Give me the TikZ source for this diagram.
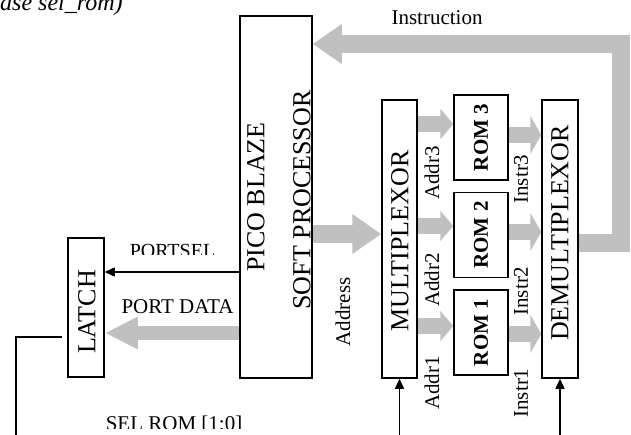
\documentclass[tikz,border=0pt]{standalone}
\usepackage{fontspec}
\setmainfont{Liberation Serif}
\usepackage{xcolor}
\usepackage{tikz}
\usetikzlibrary{positioning, arrows.meta, calc}

\definecolor{busgray}{RGB}{192,192,192}

\begin{document}
\begin{tikzpicture}[
      x=1pt, y=-1pt,
      node distance=11pt,
      box/.style={draw, line width=1.5pt, inner sep=0pt},
      romblk/.style={box, minimum width=54pt, minimum height=85pt},
      vtxt/.style={rotate=90, inner sep=0pt, font=\fontsize{26}{28}\selectfont},
      romtxt/.style={rotate=90, inner sep=0pt, font=\bfseries\fontsize{21}{23}\selectfont},
      lbl/.style={inner sep=0pt, font=\fontsize{21}{23}\selectfont},
      vlbl/.style={lbl, rotate=90},
      sig/.style={line width=1.5pt, -{Triangle[length=10pt, width=9pt]}},
      bus/.style={draw=busgray, line width=18pt, line join=miter,
        -{Triangle[length=29pt, width=38pt]}},
      addrbus/.style={draw=busgray, line width=16pt, -{Triangle[length=13pt, width=30pt]}},
      instrbus/.style={draw=busgray, line width=16pt, -{Triangle[length=11pt, width=38pt]}}
    ]
    \useasboundingbox (0,0) rectangle (631,435);
    \clip (0,0) rectangle (631,435);

    % blocks
    \node[box, minimum width=72pt, minimum height=362pt] (pico) at (276,197) {};
    \node[box, minimum width=36pt, minimum height=139pt] (latch) at (86,307.5) {};
    \node[box, minimum width=35pt, minimum height=278pt] (mux) at (399.5,239) {};
    \node[box, minimum width=36pt, minimum height=278pt] (demux) at (560,239) {};
    \node[romblk] (rom3) at (481,137.5) {};
    \node[romblk, below=of rom3] (rom2) {};
    \node[romblk, below=of rom2] (rom1) {};

    % block texts
    \node[vtxt] (picotxt) at (256,197) {PICO BLAZE};
    \begin{scope}
      \clip (pico.north west) rectangle (pico.south east);
      \node[vtxt] (softtxt) at (302,200) {SOFT PROCESSOR};
    \end{scope}
    \node[vtxt] (latchtxt) at (87,312) {LATCH};
    \node[vtxt] (muxtxt) at (400,241) {MULTIPLEXOR};
    \node[vtxt] (demuxtxt) at (560,233) {DEMULTIPLEXOR};
    \foreach \i in {1,2,3}
      \node[romtxt] (romtxt\i) at (rom\i) {ROM \i};

    % buses
    \draw[bus] (demux.east |- 0,243) -| (621,44) -- (pico.east |- 0,44);
    \draw[bus] (pico.east |- 0,234) -- (mux.west |- 0,234);
    \draw[bus, line width=14pt, -{Triangle[length=33pt, width=30pt]}]
      (pico.west |- 0,333) -- (latch.east |- 0,333);
    \foreach \i/\ya/\yi/\la/\li in {3/124/135/173/179, 2/226/232/280/291, 1/326/334/383/393} {
      \draw[addrbus] (mux.east |- 0,\ya) -- (rom\i.west |- 0,\ya);
      \draw[instrbus] (rom\i.east |- 0,\yi) -- (demux.west |- 0,\yi);
      \node[vlbl] (addr\i) at (432,\la) {Addr\i};
      \node[vlbl] (instr\i) at (521,\li) {Instr\i};
    }

    % control lines
    \draw[sig] (pico.west |- 0,272) -- (latch.east |- 0,272);
    \coordinate (latchin) at ($(latch.west)+(-5,29.5)$);
    \coordinate (selend) at (16,440);
    \draw[line width=1.5pt] (latchin) -| (selend);
    \coordinate (muxsel) at (mux.south |- 0,440);
    \coordinate (demuxsel) at (demux.south |- 0,440);
    \draw[sig] (muxsel) -- (mux.south);
    \draw[sig] (demuxsel) -- (demux.south);

    % labels
    \node[lbl, anchor=base west, font=\itshape\fontsize{24}{26}\selectfont] (note) at (0,11) {ase sel\_rom)};
    \node[lbl, anchor=base] (instrlbl) at (437,25) {Instruction};
    \node[vlbl] (addrlbl) at (343,312) {Address};
    \node[lbl, anchor=base] (pdlbl) at (177.5,313) {PORT DATA};
    \begin{scope}
      \clip (100,230) rectangle (240,255);
      \node[lbl, anchor=base, font=\fontsize{20}{22}\selectfont] (pslbl) at (172.5,258) {PORTSEL};
    \end{scope}
    \begin{scope}
      \clip (90,400) rectangle (260,428);
      \node[lbl, anchor=base] (sellbl) at (174,430) {SEL ROM [1:0]};
    \end{scope}
  \end{tikzpicture}
\end{document}
